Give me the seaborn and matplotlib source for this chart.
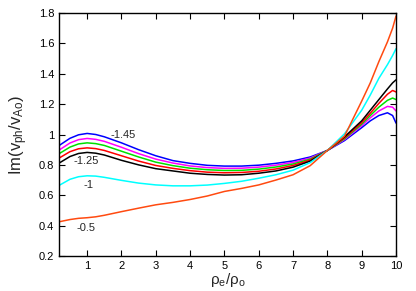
import numpy as np
import pandas as pd
import seaborn as sns
import matplotlib
matplotlib.use("Agg")
import matplotlib.pyplot as plt

x = [0.2, 0.5, 0.75, 1, 1.25, 1.5, 2, 2.5, 3, 3.5, 4, 4.5, 5, 5.5, 6, 6.5,
     7, 7.5, 8, 8.5, 9, 9.25, 9.5, 9.75, 9.9, 10]

im_145 = [0.93, 0.975, 0.998, 1.007, 1.0, 0.985, 0.945, 0.9, 0.86, 0.828, 0.81, 0.797, 0.792,
          0.792, 0.798, 0.81, 0.826, 0.852, 0.895, 0.96, 1.045, 1.09, 1.125, 1.143, 1.125, 1.075]
im_140 = [0.90, 0.944, 0.966, 0.974, 0.968, 0.955, 0.916, 0.874, 0.838, 0.812, 0.793, 0.782, 0.777,
          0.778, 0.785, 0.798, 0.816, 0.845, 0.895, 0.967, 1.058, 1.11, 1.155, 1.185, 1.18, 1.155]
im_135 = [0.876, 0.917, 0.938, 0.945, 0.94, 0.928, 0.89, 0.852, 0.818, 0.795, 0.778, 0.768, 0.763,
          0.764, 0.772, 0.786, 0.806, 0.838, 0.895, 0.972, 1.068, 1.125, 1.18, 1.225, 1.24, 1.23]
im_130 = [0.847, 0.887, 0.906, 0.912, 0.907, 0.895, 0.86, 0.825, 0.796, 0.777, 0.762, 0.752, 0.748,
          0.75, 0.758, 0.773, 0.796, 0.832, 0.895, 0.978, 1.078, 1.14, 1.205, 1.265, 1.29, 1.28]
im_125 = [0.814, 0.855, 0.875, 0.882, 0.877, 0.865, 0.83, 0.8, 0.775, 0.76, 0.745, 0.737, 0.733,
          0.735, 0.745, 0.76, 0.785, 0.825, 0.895, 0.985, 1.09, 1.16, 1.23, 1.3, 1.34, 1.36]
im_100 = [0.667, 0.705, 0.722, 0.728, 0.726, 0.718, 0.698, 0.68, 0.668, 0.662, 0.662, 0.667, 0.678,
          0.692, 0.712, 0.735, 0.765, 0.815, 0.895, 1.005, 1.16, 1.26, 1.37, 1.46, 1.52, 1.565]
im_050 = [0.426, 0.44, 0.448, 0.452, 0.458, 0.468, 0.492, 0.515, 0.537, 0.553, 0.572, 0.595, 0.625,
          0.645, 0.668, 0.7, 0.735, 0.795, 0.895, 0.99, 1.22, 1.34, 1.48, 1.61, 1.70, 1.78]

series = {"-1.45": im_145, "-1.4": im_140, "-1.35": im_135, "-1.3": im_130,
          "-1.25": im_125, "-1": im_100, "-0.5": im_050}
colors = ["#0000ff", "#ff00ff", "#00e000", "#ff0000", "#000000", "#00ffff", "#ff4a10"]

df = pd.concat([pd.DataFrame({"x": x, "y": v, "k": k}) for k, v in series.items()])

sns.set_style("ticks")
plt.rcParams["font.family"] = ["Liberation Sans", "DejaVu Sans"]
plt.rcParams["mathtext.default"] = "regular"

fig = plt.figure(figsize=(4.16, 2.91), dpi=100)
ax = fig.add_axes([0.1418, 0.1203, 0.8102, 0.835])
sns.lineplot(data=df, x="x", y="y", hue="k", palette=colors, linewidth=1.1,
             legend=False, ax=ax, sort=False)

ax.set_xlim(0.18, 10)
ax.set_ylim(0.2, 1.8)
ax.set_xticks(range(1, 11))
ax.set_yticks(np.arange(0.2, 1.81, 0.2))
ax.set_yticklabels(["0.2", "0.4", "0.6", "0.8", "1", "1.2", "1.4", "1.6", "1.8"])
ax.tick_params(direction="in", top=True, right=True, length=4, width=0.8,
               labelsize=8, colors="black")
for s in ax.spines.values():
    s.set_visible(True)
    s.set_linewidth(1.0)
    s.set_color("black")

ax.set_xlabel(r"$\rho_e/\rho_o$", fontsize=11, labelpad=0)
ax.set_ylabel(r"Im(v$_{ph}$/v$_{Ao}$)", fontsize=12, labelpad=6)

ax.text(1.67, 0.996, "-1.45", fontsize=8, va="center")
ax.text(0.59, 0.825, "-1.25", fontsize=8, va="center")
ax.text(0.88, 0.667, "-1", fontsize=8, va="center")
ax.text(0.68, 0.384, "-0.5", fontsize=8, va="center")

fig.savefig("out.png", dpi=100)
